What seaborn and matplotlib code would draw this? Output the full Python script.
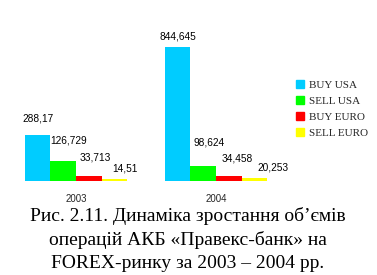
import matplotlib
matplotlib.use("Agg")
import matplotlib.pyplot as plt
import seaborn as sns
import pandas as pd

years = ["2003", "2004"]
series = ["BUY USA", "SELL USA", "BUY EURO", "SELL EURO"]
buy_usa = [288.17, 844.645]
sell_usa = [126.729, 98.624]
buy_euro = [33.713, 34.458]
sell_euro = [14.51, 20.253]
value_labels = {
    "BUY USA": ["288,17", "844,645"],
    "SELL USA": ["126,729", "98,624"],
    "BUY EURO": ["33,713", "34,458"],
    "SELL EURO": ["14,51", "20,253"],
}
caption = ["Рис. 2.11. Динаміка зростання об’ємів",
           "операцій АКБ «Правекс-банк» на",
           "FOREX-ринку за 2003 – 2004 рр."]

colors = ["#00CCFF", "#00FF00", "#FF0000", "#FFFF00"]

rows = []
for s, vals in zip(series, [buy_usa, sell_usa, buy_euro, sell_euro]):
    for y, v in zip(years, vals):
        rows.append({"year": y, "series": s, "value": v})
df = pd.DataFrame(rows)

sns.set_theme(style="white")
W, H = 377, 275
fig = plt.figure(figsize=(W / 100, H / 100), dpi=100)
fig.patch.set_facecolor("white")
ax = fig.add_axes([6 / W, (H - 181.3) / H, 280 / W, (181.3 - 22) / H])

sns.barplot(data=df, x="year", y="value", hue="series", hue_order=series,
            order=years, palette=colors, width=0.73, gap=0, ax=ax,
            legend=False, saturation=1, linewidth=0)
ax.set_xlim(-0.5, 1.5)
ax.set_ylim(0, 1000)
for sp in ax.spines.values():
    sp.set_visible(False)
ax.set_yticks([])
ax.set_xlabel("")
ax.set_ylabel("")
ax.set_xticks([0, 1])
ax.set_xticklabels(years, fontsize=7, family="Liberation Sans")
ax.tick_params(axis="x", length=0, pad=9)

# label offsets (px) from bar top-center: per series, per year
offsets = {
    "BUY USA": [(0, 17), (0, 10)],
    "SELL USA": [(5, 21), (6, 23)],
    "BUY EURO": [(6.5, 18), (8, 17)],
    "SELL EURO": [(11, 10), (19, 11)],
}
for s, cont in zip(series, ax.containers):
    for i, bar in enumerate(cont):
        dx, dy = offsets[s][i]
        ax.annotate(value_labels[s][i],
                    (bar.get_x() + bar.get_width() / 2, bar.get_height()),
                    xytext=(dx * 0.72, dy * 0.72), textcoords="offset points",
                    ha="center", va="center", fontsize=7.3,
                    family="Liberation Sans", color="black")

from matplotlib.patches import Patch
handles = [Patch(facecolor=c, edgecolor=c) for c in colors]
fig.legend(handles, series, loc="upper left",
           bbox_to_anchor=(296 / W, 1 - 80 / H), frameon=False,
           prop={"family": "Liberation Serif", "size": 8},
           handlelength=0.75, handleheight=0.75, handletextpad=0.4,
           labelspacing=0.55, borderpad=0, borderaxespad=0)

for txt, yy in zip(caption, [216, 240, 263]):
    fig.text(188 / W, 1 - yy / H, txt, ha="center", va="center",
             fontsize=14, family="Liberation Serif", color="black")

fig.savefig("out.png", dpi=100, facecolor="white")
